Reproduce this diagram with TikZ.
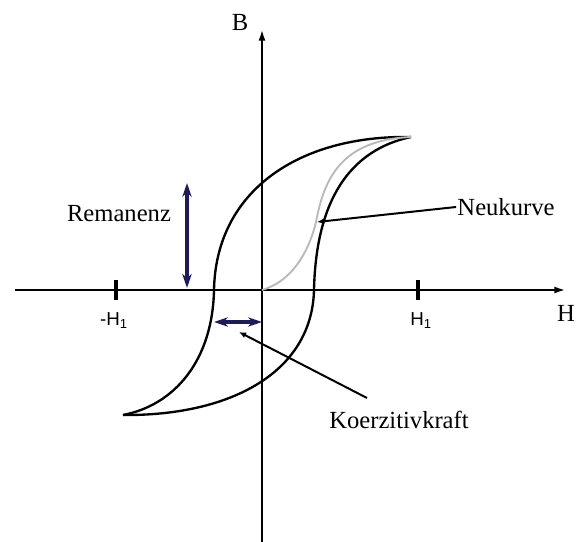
\documentclass[tikz,border=0pt]{standalone}
\usepackage{fontspec}
\setmainfont{Liberation Serif}
\newfontfamily\labelsans{Liberation Sans}
\usepackage{xcolor}
\usepackage{tikz}
\usetikzlibrary{arrows.meta,positioning,calc}

\definecolor{remblue}{RGB}{30,26,92}

\begin{document}
\begin{tikzpicture}[
  x=0.03cm, y=-0.03cm,
  axis/.style={line width=2pt, -{Latex[length=10pt,width=6pt]}},
  tick/.style={line width=4pt},
  loop/.style={line width=2pt},
  virgin/.style={line width=1.6pt, gray!55},
  measure/.style={line width=2.8pt, remblue, {Stealth[length=12pt,width=8pt]}-{Stealth[length=12pt,width=8pt]}},
  pointer/.style={line width=1.7pt, -{Latex[length=6pt,width=5pt]}},
  label/.style={font=\fontsize{21}{24}\selectfont, inner sep=1pt},
  ticklabel/.style={font=\labelsans\fontsize{16}{18}\selectfont, inner sep=1pt},
]
\useasboundingbox (0,0) rectangle (576,542);

% axes
\coordinate (O) at (262,290);
\coordinate (hleft) at (15,290);
\coordinate (hright) at (566,290);
\coordinate (bbottom) at (262,545);
\coordinate (btop) at (262,29);
\draw[axis] (hleft) -- (hright);
\draw[axis] (bbottom) -- (btop);
\node[label] (blab) at (240,22) {B};
\node[label] (hlab) at (566,313) {H};

% ticks at -H1 and H1
\coordinate (tminus) at (116,290);
\coordinate (tplus) at (418,290);
\draw[tick] ($(tminus)+(0,-10)$) -- ($(tminus)+(0,10)$);
\draw[tick] ($(tplus)+(0,-10)$) -- ($(tplus)+(0,10)$);
\node[ticklabel] (hminus) at (114,321) {-H\textsubscript{1}};
\node[ticklabel] (hplus) at (421,321) {H\textsubscript{1}};

% hysteresis loop
\draw[loop] (411,137) .. controls (300,135) and (216,190) .. (214,290)
  .. controls (212.6,360) and (175,405) .. (123,415);
\draw[loop] (123,415) .. controls (231,416) and (312,372) .. (314,290)
  .. controls (316,200) and (350,150) .. (411,137);

% Neukurve
\draw[virgin] (O) .. controls (290,282) and (308,255) .. (316,222)
  .. controls (324,180) and (340,140) .. (411,137);

% Remanenz and Koerzitivkraft
\coordinate (remtop) at (187,183);
\coordinate (rembot) at (187,288);
\draw[measure] (rembot) -- (remtop);
\node[label] (rem) at (119,214) {Remanenz};

\coordinate (koleft) at (214,322);
\coordinate (koright) at (262,322);
\draw[measure] (koleft) -- (koright);

\node[label] (neu) at (506,207) {Neukurve};
\coordinate (neupt) at (317,222);
\draw[pointer] (neu.west) -- (neupt);

\node[label] (koerz) at (399,420) {Koerzitivkraft};
\coordinate (kstart) at (367,398);
\coordinate (koerzpt) at (239,332);
\draw[pointer] (kstart) -- (koerzpt);

\end{tikzpicture}
\end{document}
